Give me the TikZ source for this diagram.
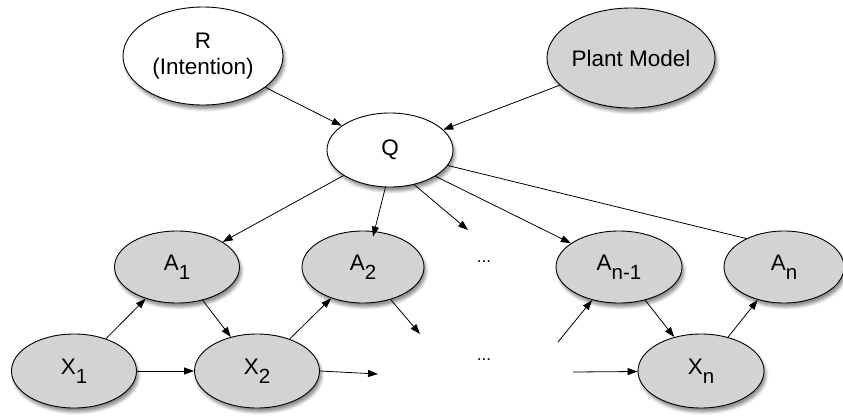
\documentclass[tikz,border=0pt]{standalone}
\usepackage{fontspec}
\setmainfont{Liberation Sans}
\usetikzlibrary{shapes.geometric,shadows.blur,arrows.meta}
\definecolor{nodegray}{HTML}{D3D3D3}
\newcommand{\sbs}[1]{\raisebox{-9pt}{\fontsize{20.5}{20}\selectfont #1}}
\begin{document}
\begin{tikzpicture}[x=1pt,y=-1pt,
  every node/.style={font=\fontsize{22.5}{26}\selectfont},
  ell/.style={ellipse,draw=black,line width=0.9pt,inner sep=0pt,
    blur shadow={shadow xshift=2pt,shadow yshift=-4pt,shadow blur radius=3pt,shadow opacity=45}},
  white/.style={ell,fill=white},
  gray/.style={ell,fill=nodegray},
  arr/.style={-{Triangle[length=10pt,width=7pt]},line width=0.8pt},
  ln/.style={line width=0.8pt}]
\useasboundingbox (0,0) rectangle (843,416);
\node[white,minimum width=160pt,minimum height=98pt,align=center] (R) at (203,56) {R\\(Intention)};
\node[gray,minimum width=152pt,minimum height=100pt] (P) at (631,58) {Plant Model};
\node[white,minimum width=126pt,minimum height=74pt] (Q) at (390,150) {Q};
\node[gray,minimum width=125pt,minimum height=72pt] (A1) at (177,267) {A\sbs{1}};
\node[gray,minimum width=122pt,minimum height=72pt] (A2) at (363,267) {A\sbs{2}};
\node[gray,minimum width=126pt,minimum height=72pt] (An1) at (619,267) {A\sbs{n-1}};
\node[gray,minimum width=120pt,minimum height=72pt] (An) at (784,267) {A\sbs{n}};
\node[gray,minimum width=125pt,minimum height=74pt] (X1) at (74,371) {X\sbs{1}};
\node[gray,minimum width=125pt,minimum height=74pt] (X2) at (257,371) {X\sbs{2}};
\node[gray,minimum width=126pt,minimum height=74pt] (Xn) at (701,371) {X\sbs{n}};
\node[font=\fontsize{17}{20}\selectfont] (d1) at (484,262) {...};
\node[font=\fontsize{17}{20}\selectfont] (d2) at (484,360) {...};
\coordinate (fq) at (468,230);
\coordinate (fa2) at (420,334);
\coordinate (fx2) at (378,374);
\coordinate (fan) at (558,342);
\coordinate (fxn) at (573,372);
\draw[arr] (R) -- (Q);
\draw[arr] (P) -- (Q);
\draw[arr] (Q) -- (A1);
\draw[arr] (Q.-97) -- ([xshift=10pt,yshift=-6pt]A2.north);
\draw[arr] (Q.-55) -- (fq);
\draw[arr] (Q.-30) -- (An1);
\draw[ln] (Q.-15) -- (An.143);
\draw[arr] (X1) -- (A1);
\draw[arr] (A1) -- (X2);
\draw[arr] (X1) -- (X2);
\draw[arr] (X2) -- (A2);
\draw[arr] (A2) -- (fa2);
\draw[arr] (X2.east) -- (fx2);
\draw[arr] (fan) -- (An1);
\draw[arr] (fxn) -- (Xn);
\draw[arr] (An1) -- (Xn);
\draw[arr] (Xn) -- (An);
\end{tikzpicture}
\end{document}
